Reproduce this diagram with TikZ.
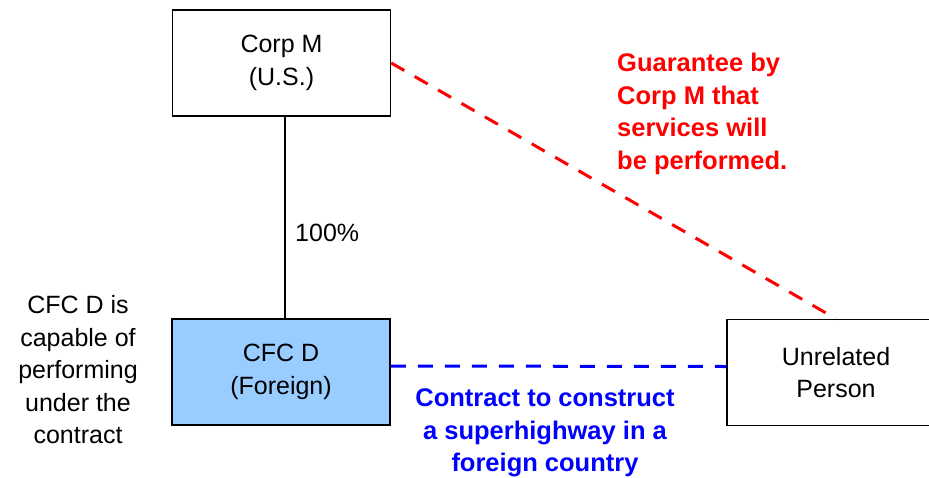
\documentclass[tikz,border=0pt]{standalone}
\usepackage{fontspec}
\setmainfont{Liberation Sans}
\definecolor{boxblue}{HTML}{99CCFF}
\definecolor{pRed}{HTML}{FF0000}
\definecolor{pBlue}{HTML}{0000FF}
\tikzset{
  entity/.style={draw=black, line width=1.5pt, minimum width=218pt, minimum height=106pt, inner sep=0pt, align=center, font=\fontsize{25}{32.5}\selectfont},
  plain/.style={align=center, inner sep=0pt, font=\fontsize{25}{32.5}\selectfont},
  boldlab/.style={inner sep=0pt, font=\fontsize{25.5}{32.5}\selectfont\bfseries},
  dashlink/.style={line width=3pt, dash pattern=on 15pt off 12pt}
}
\begin{document}
\begin{tikzpicture}[x=1pt,y=-1pt]
\useasboundingbox (0,0) rectangle (929,477);
\node[entity] (corp) at (281.5,63) {Corp M\\(U.S.)};
\node[entity, fill=boxblue] (cfc) at (281,372) {CFC D\\(Foreign)};
\node[entity] (unrel) at (836,372.5) {Unrelated\\Person};
\draw[line width=1.5pt] ([xshift=3.5pt]corp.south) -- ([xshift=4pt]cfc.north);
\node[plain, anchor=west] (pct) at (295,233) {100\%};
\draw[dashlink, pRed] (corp.east) -- (unrel.north);
\draw[dashlink, pBlue] ([yshift=6pt]cfc.east) -- ([yshift=6pt]unrel.west);
\node[boldlab, text=pRed, align=left, anchor=west] (guar) at (617,114) {Guarantee by\\Corp M that\\services will\\be performed.};
\node[boldlab, text=pBlue, align=center] (contract) at (545,433) {Contract to construct\\a superhighway in a\\foreign country};
\node[plain] (capable) at (78,370) {CFC D is\\capable of\\performing\\under the\\contract};
\end{tikzpicture}
\end{document}
